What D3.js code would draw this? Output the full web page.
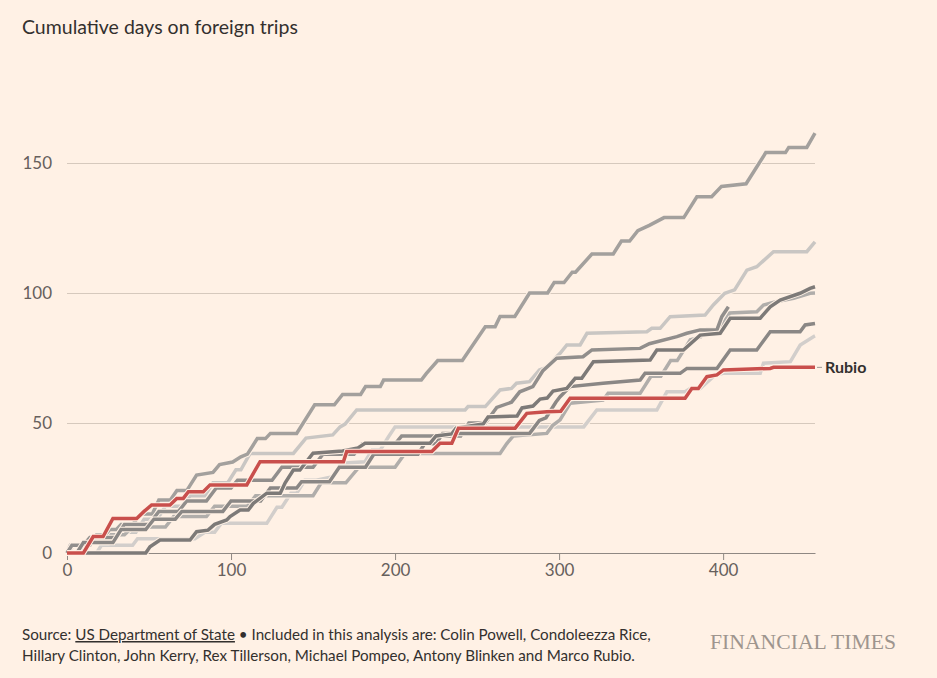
<!DOCTYPE html>
<html>
<head>
<meta charset="utf-8">
<script src="https://cdn.jsdelivr.net/npm/d3@7"></script>
<style>
  body { margin: 0; background: #fff1e5; }
  svg { display: block; }
</style>
</head>
<body>
<div id="container"></div>
<script>
// cumulative days abroad: [days in office, cumulative days on foreign trips]
// values estimated off the published chart
const rubio = [[0,0],[10,0],[16,6.3],[22,6.3],[28,13.3],[42.5,13.3],[47,16],[51.6,18.5],[62.8,18.5],[66.9,21],[70.9,21],[74,23.6],[83.1,23.6],[87.2,26.2],[109.6,26.2],[117.7,35.1],[168.5,35.1],[170.5,39],[222.4,39],[227.4,42.2],[234.6,42.2],[238.6,48],[273.2,48],[280.3,53.7],[292.5,54.3],[301,54.5],[306.7,59.5],[376.8,59.5],[380.9,63.3],[384.9,63.3],[390.1,67.8],[396.2,68.5],[400.2,70.4],[428.7,71],[430.7,71.4],[456,71.4]]

const topLine = [[0,0],[4,3],[10,3],[14,6],[22,6],[26,9],[30,9],[33,11],[40,11],[45,15],[52,15],[56,20.4],[63,20.4],[67,24],[73,24],[79,30],[89,31],[93,34],[101,35],[106,37],[110,38],[116,44],[121,44],[124,46],[140,46],[151,57],[163,57],[168,61],[179,61],[182,64],[191,64],[193,66.5],[216,66.5],[219,69],[226,74],[241,74],[255,87],[261,87],[264,91],[273,91],[282,100],[293,100],[297,104],[303,104],[308,108],[310,108],[320,115],[333,115],[338,120],[343,120],[348,124],[355,126],[364,129],[376,129],[384,137],[393,137],[399,141],[414,142],[426,154],[438,154],[440,156],[451,156],[456,161.5]]

const lightHigh = [[0,0],[8,0],[12,4],[25,4],[30,8],[42,8],[47,13],[55,13],[60,18],[70,18],[75,22],[84,22],[89,27],[98,27],[103,32],[106,32],[111.6,38.3],[138,38.3],[145.7,44.2],[162,45.4],[166.5,48.5],[169.5,49.6],[176.6,55],[242.7,55],[244.5,56.3],[255,56.3],[264,62.7],[271,63.3],[274,65.3],[282,65.9],[288,70.4],[291.5,71.2],[300.6,76.8],[304.7,80],[312.8,80],[317,84.5],[353.5,85.1],[356.5,86.4],[361.6,86.4],[367.7,90.9],[389,91.5],[394,95.4],[401,99.9],[407,101.2],[414.5,108.8],[420.5,110.1],[430.7,115.9],[451,115.9],[456,119.7]]

const darkHigh = [[0,0],[48,0],[50.6,2.4],[56.7,5],[75,5],[79,8.2],[86,8.8],[90,11],[97.4,12.7],[99.4,14],[105.5,16.5],[110.5,16.5],[113.6,19.1],[121.8,23],[130,23],[133,27],[138,31.9],[142,31.9],[150,38.4],[168,39.2],[177.4,40.4],[181.7,42.2],[221.3,42.2],[225,45],[234.6,45.8],[237.2,48],[253.7,49.6],[256.7,52.3],[274.4,52.7],[277.4,55.8],[284.1,56.5],[288.4,59.2],[292.7,59.6],[296.3,62.3],[304.7,63.3],[309.8,67.2],[313.8,67.2],[320.9,73.6],[355.5,74.2],[359.6,78.1],[375.8,78.1],[386,83.8],[398.2,84.5],[404.3,90.3],[422.6,90.3],[428.7,94.7],[434.8,97.3],[446.9,99.9],[453,101.8],[456,102.4]]

const midGray = [[0,0],[2,3],[14,3],[18,7],[35,7],[40,10],[60,10],[65,14],[85,14],[90,18],[110,18],[115,22],[150,22],[155,27],[170,27],[178,33],[200,33],[206,38.3],[264,38.3],[268,42],[272,45],[292.5,46],[296,49],[300.6,51.2],[306.7,57.6],[326.8,58.8],[329.9,61.4],[349.4,61.4],[356,68],[362,68],[368,74],[372,74],[380,82],[386,83],[390,86],[398,86],[404,92.3],[420.5,92.8],[424.6,95.4],[432.7,96.7],[443,98],[453,99.9],[456,100]]

const darkLow = [[0,0],[6,0],[10,4],[28,4],[33,9],[48,9],[53,13],[66,13],[70,16],[95,16],[100,20],[118,20],[124,25],[140,25],[143,27.4],[160,27.4],[166,33],[182,33],[187,38],[214,38],[218,42],[225,42],[229,46],[282,46],[288,51],[292,52],[298,58],[300.6,60.1],[306.7,64],[326.8,65.3],[349.4,66.5],[352.4,69.1],[373.8,69.1],[377.9,71],[396.2,71],[404.3,78.1],[420.5,78.1],[428.7,85.1],[446.9,85.1],[450,87.7],[456,88.3]]

const lightLow = [[0,0],[18,0],[21,3],[40,3],[43,5.5],[78,5.5],[84,8],[90,8],[94,11.4],[121.8,11.4],[128,17.6],[131,17.6],[136.5,23],[140,23],[142.5,25.5],[145,28],[152,28],[162,29.3],[167.2,34.5],[181.7,35.1],[186,39.6],[191,39.6],[196,44.7],[200,48.5],[315,48.5],[323,55],[359.6,55],[365.7,62],[376.8,62],[380,63.3],[386,63.3],[394,67.8],[396,68.5],[400,69.1],[422.6,69.1],[424.6,73],[441,73.6],[447,80],[455,83.2],[456,83.5]]

// this one stops early
const shortLine = [[0,0],[3,3],[10,3],[14,6],[30,6],[35,11],[50,11],[56,16],[68,16],[73,20],[85,20],[91,25],[100,25],[104,28],[125,28],[131,33],[150,33],[156,38],[175,38],[180,42],[200,42],[204,45],[240,45],[245,50],[255,50],[262,56],[271,58],[276,62],[284,64],[290,70],[298.5,74.9],[314.6,75.5],[320,78.1],[349.4,78.7],[355,80.5],[371.8,83.2],[377.9,84.5],[386,85.8],[396.2,85.8],[399.2,90.9],[403.2,94.7]]

const xTicks = [0, 100, 200, 300, 400]
const yTicks = [0, 50, 100, 150]

// grey lines, drawn light to dark
const greyLines = [
  { data: lightLow, color: '#d2cecb' },
  { data: lightHigh, color: '#c9c6c3' },
  { data: midGray, color: '#b0adaa' },
  { data: topLine, color: '#a3a09d' },
  { data: shortLine, color: '#918e8c' },
  { data: darkLow, color: '#8a8785' },
  { data: darkHigh, color: '#7d7a78' }
]

const width = 937
const height = 678
const marginLeft = 67
const plotRight = 815
const plotBottom = 553

const x = d3.scaleLinear().domain([0, 456]).range([marginLeft, plotRight])
const y = d3.scaleLinear().domain([0, 150]).range([plotBottom, 163])

const svg = d3.create('svg')
    .attr('width', width)
    .attr('height', height)
    .style('background', '#fff1e5')

// title
svg.append('text')
    .attr('x', 22)
    .attr('y', 34)
    .style('font-family', 'Lato, "Noto Sans", sans-serif')
    .style('font-size', '19.5px')
    .attr('fill', '#33302e')
    .text('Cumulative days on foreign trips')

// gridlines + y labels
const leftAxis = svg.append('g')
    .attr('transform', `translate(${marginLeft},0)`)
    .call(d3.axisLeft(y)
        .tickValues(yTicks)
        .tickSize(-(plotRight - marginLeft))
        .tickFormat(d3.format('d')))
leftAxis.select('.domain').remove()
leftAxis.selectAll('line')
    .attr('stroke', '#d6c9bd')
    .attr('stroke-width', 1)
leftAxis.selectAll('.tick text')
    .attr('x', -15)
    .attr('dy', '0.35em')
    .attr('fill', '#66605c')
    .style('font-family', 'Lato, "Noto Sans", sans-serif')
    .style('font-size', '17px')

// x axis
const bottomAxis = svg.append('g')
    .attr('transform', `translate(0,${plotBottom})`)
    .call(d3.axisBottom(x)
        .tickValues(xTicks)
        .tickSize(7)
        .tickSizeOuter(0)
        .tickFormat(d3.format('d')))
bottomAxis.select('.domain')
    .attr('stroke', '#8f8883')
bottomAxis.selectAll('line')
    .attr('stroke', '#8f8883')
bottomAxis.selectAll('.tick text')
    .attr('y', 11)
    .attr('fill', '#66605c')
    .style('font-family', 'Lato, "Noto Sans", sans-serif')
    .style('font-size', '17px')

const line = d3.line()
    .x(d => x(d[0]))
    .y(d => y(d[1]))

const lineGroup = svg.append('g').attr('fill', 'none')

function drawSeries(data, color) {
  // thin background-coloured halo so crossings read like the original
  lineGroup.append('path')
      .attr('d', line(data))
      .attr('stroke', '#fff1e5')
      .attr('stroke-width', 5.5)
  lineGroup.append('path')
      .attr('d', line(data))
      .attr('stroke', color)
      .attr('stroke-width', 3.5)
}

greyLines.forEach(s => drawSeries(s.data, s.color))
drawSeries(rubio, '#c94f4c')

// Rubio label
const last = rubio[rubio.length - 1]
svg.append('line')
    .attr('x1', x(last[0]) + 2)
    .attr('x2', x(last[0]) + 7)
    .attr('y1', y(last[1]))
    .attr('y2', y(last[1]))
    .attr('stroke', '#a09a95')
svg.append('text')
    .attr('x', x(last[0]) + 10)
    .attr('y', y(last[1]))
    .attr('dy', '0.35em')
    .style('font-family', 'Lato, "Noto Sans", sans-serif')
    .style('font-size', '16px')
    .style('font-weight', 'bold')
    .attr('fill', '#33302e')
    .text('Rubio')

// footer
const note = svg.append('g')
    .style('font-family', 'Lato, sans-serif')
    .style('font-size', '15.2px')
    .attr('fill', '#33302e')
const line1 = note.append('text').attr('x', 22).attr('y', 640)
line1.append('tspan').text('Source: ')
line1.append('tspan').style('text-decoration', 'underline').text('US Department of State')
line1.append('tspan').text(' \u2022 Included in this analysis are: Colin Powell, Condoleezza Rice,')
note.append('text').attr('x', 22).attr('y', 661)
    .text('Hillary Clinton, John Kerry, Rex Tillerson, Michael Pompeo, Antony Blinken and Marco Rubio.')

svg.append('text')
    .attr('x', 710)
    .attr('y', 649)
    .attr('textLength', 186)
    .attr('lengthAdjust', 'spacingAndGlyphs')
    .style('font-family', '"Liberation Serif", "DejaVu Serif", serif')
    .style('font-size', '21px')
    .attr('fill', '#9e958e')
    .text('FINANCIAL TIMES')

d3.select('#container').append(() => svg.node())
</script>
</body>
</html>
